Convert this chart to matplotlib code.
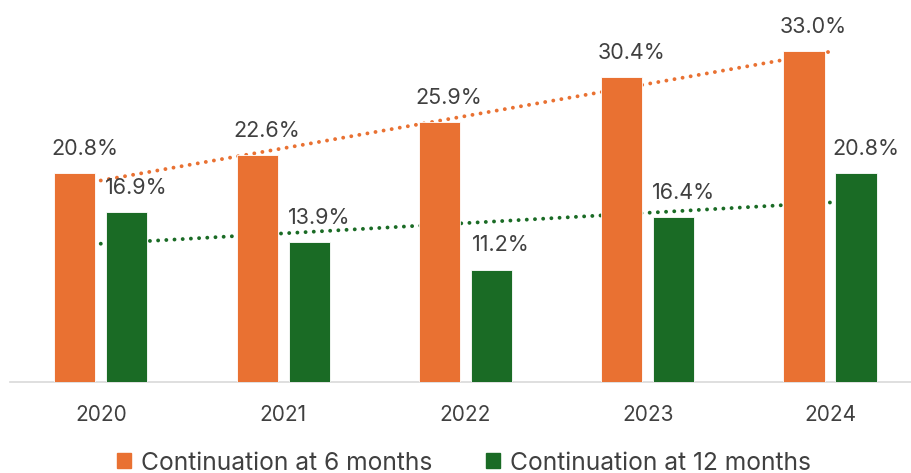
import matplotlib
matplotlib.use("Agg")
import matplotlib.pyplot as plt
import matplotlib.patches as mpatches
import numpy as np

plt.rcParams['font.family'] = ['Inter', 'DejaVu Sans']

years = ["2020", "2021", "2022", "2023", "2024"]
cont_6m = [20.8, 22.6, 25.9, 30.4, 33.0]
cont_12m = [16.9, 13.9, 11.2, 16.4, 20.8]
series_names = ["Continuation at 6 months", "Continuation at 12 months"]

ORANGE = '#E97132'
GREEN = '#1A6B25'
TXT = '#404040'

W, H = 912, 473
fig = plt.figure(figsize=(W/100, H/100), dpi=100)
left_px, right_px = 9.6, 912
top_px, bot_px = 1.5, 381.5
ax = fig.add_axes([left_px/W, 1 - bot_px/H, (right_px-left_px)/W, (bot_px-top_px)/H])

x = np.arange(len(years))
bw = 0.225
off = 0.1426
b1 = ax.bar(x - off, cont_6m, bw, color=ORANGE, edgecolor='white', linewidth=0.6, zorder=3)
b2 = ax.bar(x + off, cont_12m, bw, color=GREEN, edgecolor='white', linewidth=0.6, zorder=3)

# linear trendlines
for vals, col in [(cont_6m, ORANGE), (cont_12m, GREEN)]:
    k, b = np.polyfit(x, vals, 1)
    xt = np.array([x[0], x[-1]])
    ax.plot(xt, k*xt + b, color=col, lw=2.8, linestyle=(0, (0.01, 2.1)),
            dash_capstyle='round', zorder=2)

for bars, vals in [(b1, cont_6m), (b2, cont_12m)]:
    for r, v in zip(bars, vals):
        ax.annotate(f"{v:.1f}%", (r.get_x() + r.get_width()/2, v),
                    xytext=(7, 13), textcoords='offset points',
                    ha='center', va='baseline', fontsize=15.5, color=TXT)

ax.set_xlim(-0.5, (912 - 100.8)/182.3 - 0.0)
ax.set_ylim(0, (bot_px - top_px)/10)
ax.set_yticks([])
ax.set_xticks(x)
ax.set_xticklabels(years, fontsize=15, color=TXT)
ax.tick_params(axis='x', length=0, pad=17)
for s in ['top', 'right', 'left']:
    ax.spines[s].set_visible(False)
ax.spines['bottom'].set_color('#D9D9D9')
ax.spines['bottom'].set_linewidth(1.2)

handles = [mpatches.Patch(color=ORANGE, label=series_names[0]),
           mpatches.Patch(color=GREEN, label=series_names[1])]
fig.legend(handles=handles, loc='center', bbox_to_anchor=(464/W, 1 - 463/H), ncol=2,
           frameon=False, fontsize=17.7, labelcolor=TXT, handlelength=0.58, handleheight=0.58,
           handletextpad=0.4, columnspacing=2.2, borderpad=0)

fig.savefig('out.png', dpi=100)
